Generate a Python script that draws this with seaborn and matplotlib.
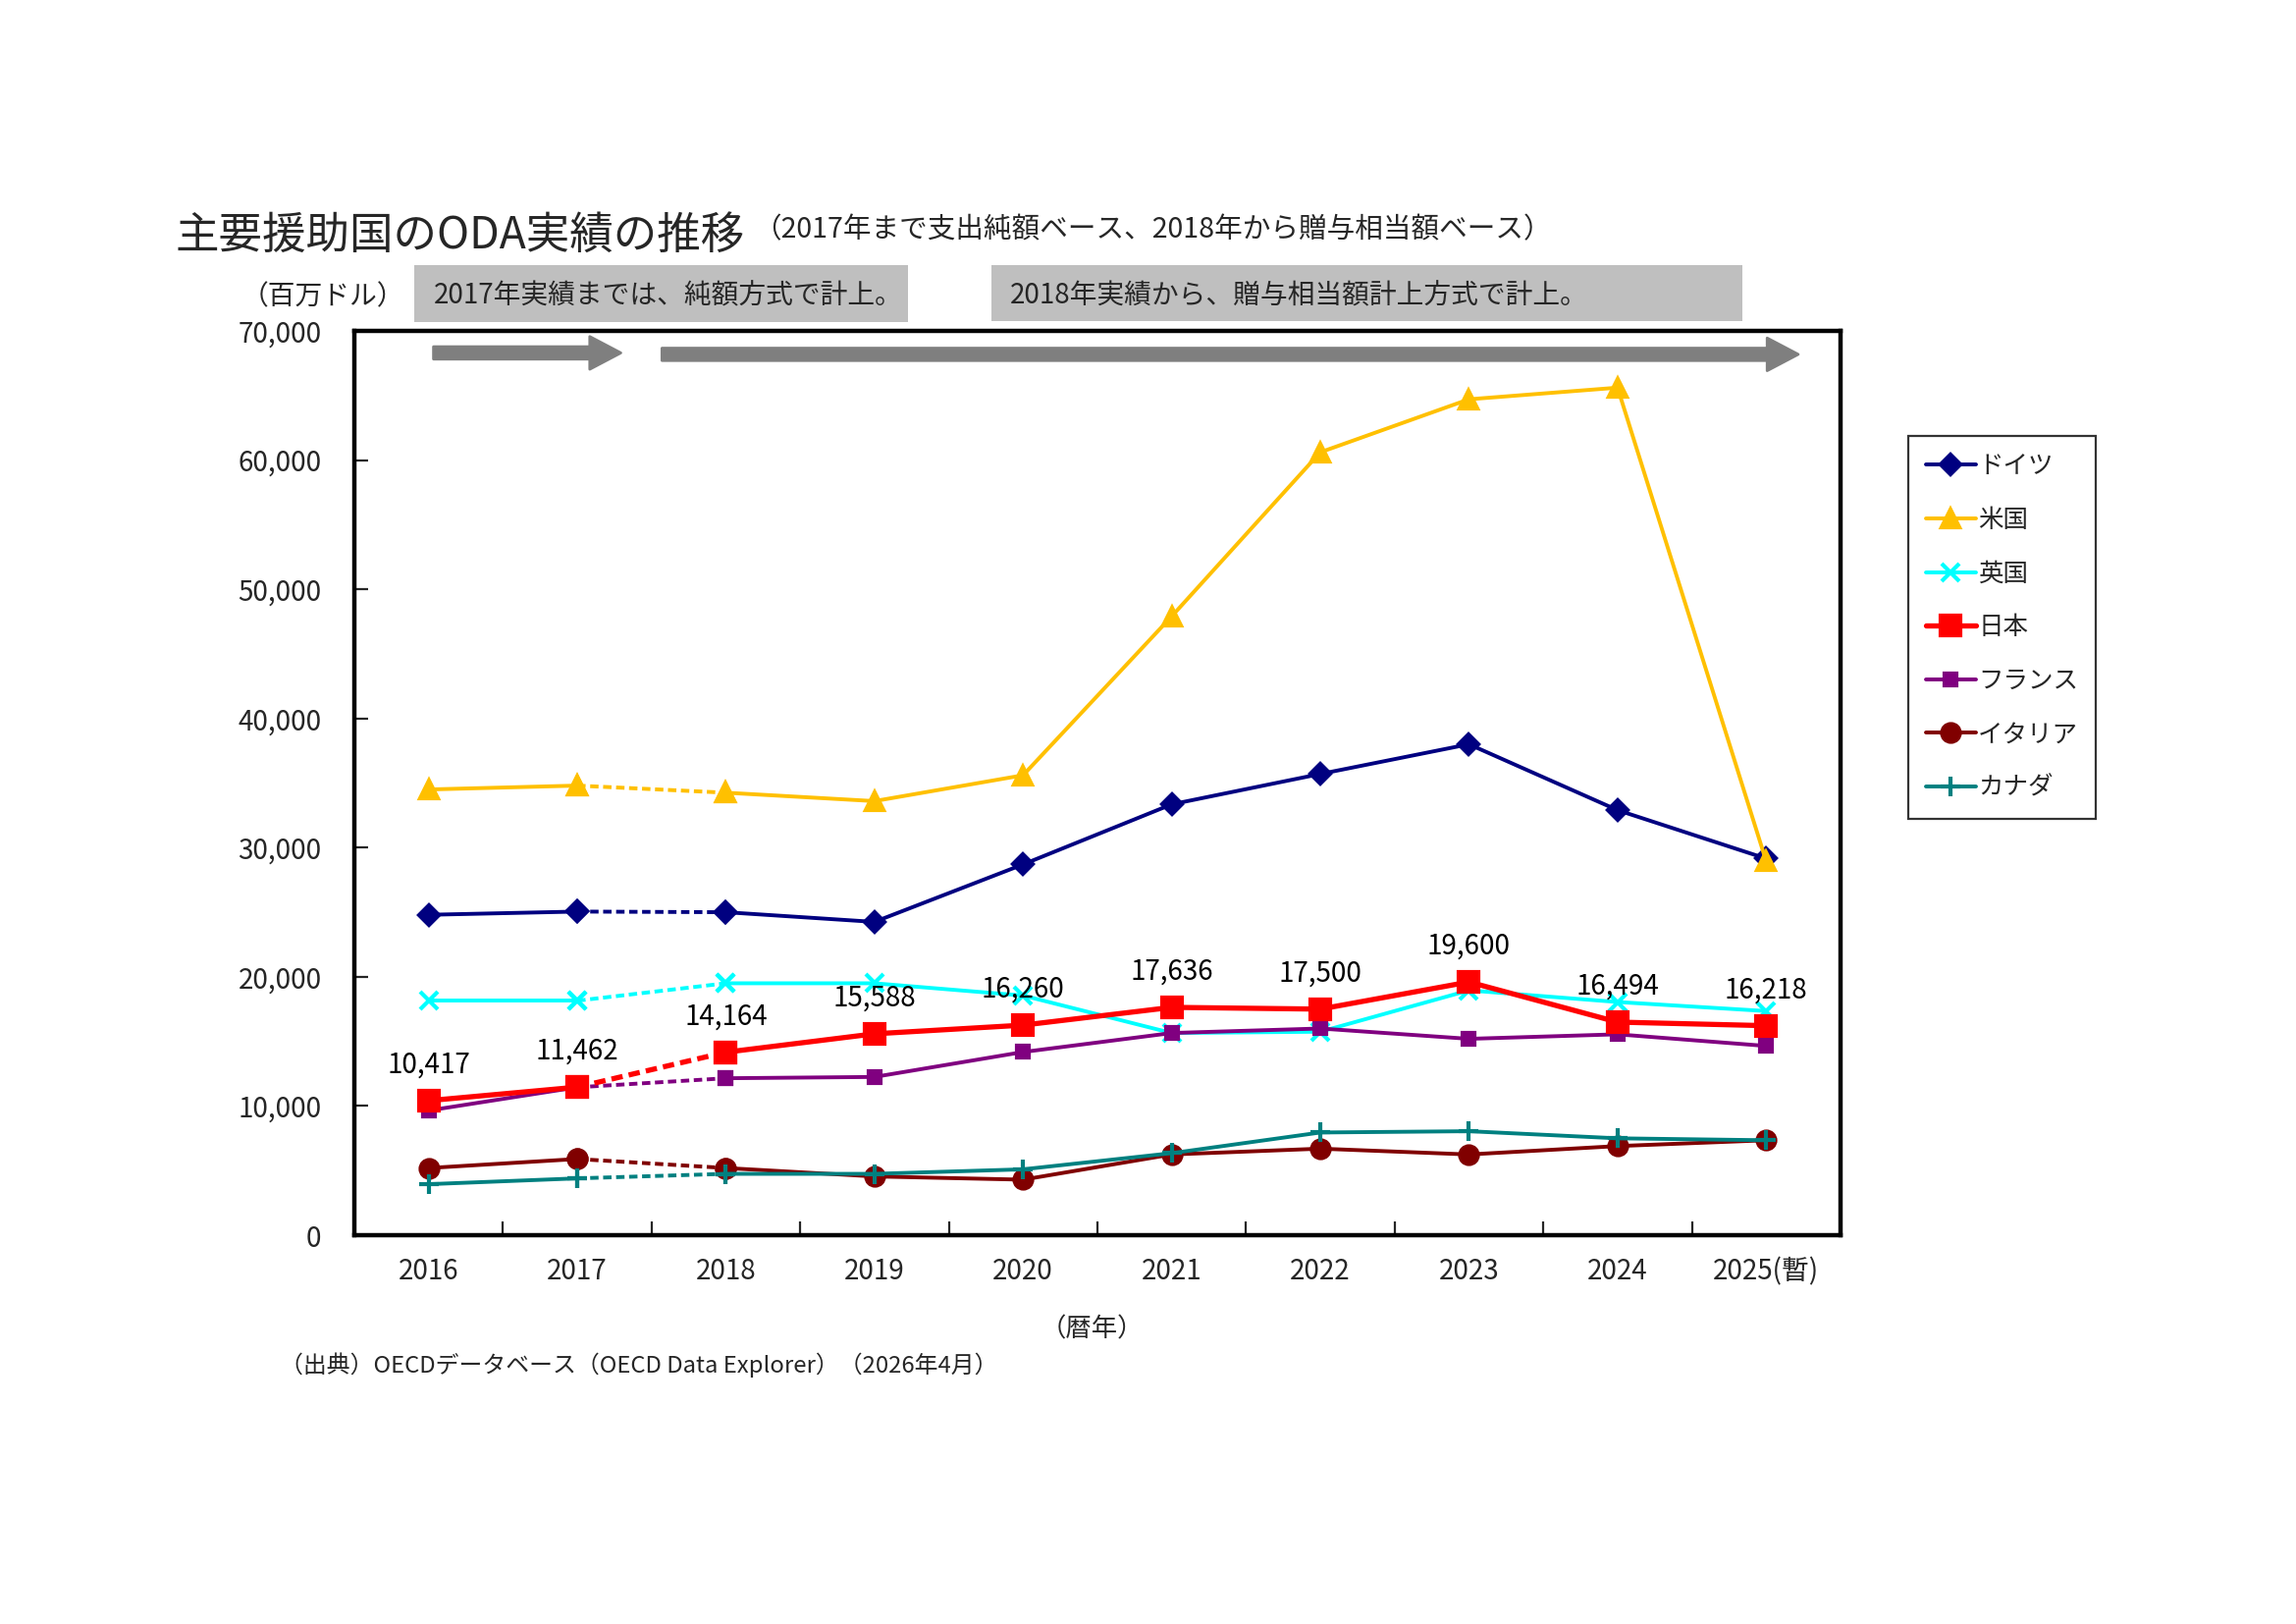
import numpy as np
import pandas as pd
import matplotlib
matplotlib.use('Agg')
import matplotlib.pyplot as plt
import seaborn as sns
from matplotlib.patches import Rectangle

# years on the x axis
years = ['2016', '2017', '2018', '2019', '2020', '2021', '2022', '2023', '2024', '2025(暫)']

# ODA (million USD) per donor
germany = [24800, 25050, 25000, 24250, 28700, 33350, 35700, 38000, 32900, 29150]
usa = [34500, 34800, 34250, 33600, 35600, 47900, 60600, 64700, 65600, 28950]
uk = [18150, 18150, 19500, 19500, 18550, 15650, 15750, 18950, 18050, 17350]
japan = [10417, 11462, 14164, 15588, 16260, 17636, 17500, 19600, 16494, 16218]
france = [9650, 11450, 12150, 12250, 14180, 15650, 16000, 15200, 15550, 14650]
italy = [5200, 5900, 5200, 4550, 4300, 6250, 6700, 6250, 6900, 7350]
canada = [3950, 4400, 4750, 4750, 5100, 6350, 7950, 8050, 7500, 7350]

names = ['ドイツ', '米国', '英国', '日本', 'フランス', 'イタリア', 'カナダ']
series = [germany, usa, uk, japan, france, italy, canada]
colors = ['#000080', '#FFC000', '#00FFFF', '#FF0000', '#800080', '#800000', '#008080']
markers = ['D', '^', 'x', 's', 's', 'o', '+']
msizes = [5, 6.5, 6.5, 7, 4, 6.5, 7]
lwidths = [1.4, 1.4, 1.4, 1.9, 1.4, 1.4, 1.4]

sns.set_style('white')
plt.rcParams['font.family'] = ['Noto Sans CJK JP', 'DejaVu Sans']

fig = plt.figure(figsize=(11.695, 8.27), dpi=200)
ax = fig.add_axes([0.1543, 0.2394, 0.6473, 0.5569])

x = np.arange(len(years))
segments = [(0, 2, '-'), (1, 3, '--'), (2, 10, '-')]
# draw japan last so it sits on top
order = [0, 1, 2, 4, 5, 6, 3]
for i in order:
    vals = np.array(series[i])
    for k, (a, b, ls) in enumerate(segments):
        lab = names[i] if k == 2 else None
        sns.lineplot(x=x[a:b], y=vals[a:b], ax=ax, color=colors[i], marker=markers[i],
                     markersize=msizes[i], markeredgecolor=colors[i], markeredgewidth=1.5,
                     linewidth=lwidths[i], linestyle=ls, label=lab, zorder=3 + (i == 3),
                     dashes=False if ls == '-' else True)
        if ls == '--':
            ax.lines[-1].set_dashes((2.2, 1.2))

# data labels for japan
for xi, v in zip(x, japan):
    ax.annotate(f'{v:,}', (xi, v), xytext=(0, 13), textcoords='offset points',
                ha='center', va='center', fontsize=10, color='black')

ax.set_xlim(-0.5, 9.5)
ax.set_ylim(0, 70000)
ax.set_yticks(range(0, 70001, 10000))
ax.set_yticklabels([f'{v:,}' for v in range(0, 70001, 10000)], fontsize=10)
ax.set_xticks(x)
ax.set_xticklabels(years, fontsize=10)
ax.set_xticks(np.arange(0.5, 9.5, 1), minor=True)
ax.tick_params(axis='x', which='major', length=0, pad=8)
ax.tick_params(axis='x', which='minor', direction='in', length=5, width=0.8, bottom=True)
ax.tick_params(axis='y', direction='in', length=5, width=0.8, left=True, pad=12)
for sp in ax.spines.values():
    sp.set_linewidth(1.6)
    sp.set_color('black')
ax.set_xlabel('')
ax.set_ylabel('')

handles, labels = ax.get_legend_handles_labels()
hmap = dict(zip(labels, handles))
ax.get_legend().remove()
leg = fig.legend([hmap[n] for n in names], names, loc='upper left', bbox_to_anchor=(0.831, 0.7313),
                 fontsize=9.2, frameon=True, fancybox=False, handlelength=2.0, labelspacing=1.12,
                 borderpad=0.7, handletextpad=0.1, borderaxespad=0)
leg.get_frame().set_edgecolor('black')
leg.get_frame().set_linewidth(0.8)

# titles and notes
fig.text(0.0765, 0.855, '主要援助国のODA実績の推移', fontsize=16, va='center', ha='left')
fig.text(0.328, 0.8585, '（2017年まで支出純額ベース、2018年から贈与相当額ベース）', fontsize=10.3, va='center', ha='left')
fig.text(0.105, 0.8175, '（百万ドル）', fontsize=10, va='center', ha='left')
fig.text(0.453, 0.1815, '（暦年）', fontsize=9.5, va='center', ha='left')
fig.text(0.122, 0.1595, '（出典）OECDデータベース（OECD Data Explorer）（2026年4月）', fontsize=8.6, va='center', ha='left')

# grey note boxes
fig.patches.append(Rectangle((0.1805, 0.8016), 0.2149, 0.0352, transform=fig.transFigure,
                             facecolor='#BFBFBF', edgecolor='none'))
fig.patches.append(Rectangle((0.4318, 0.8025), 0.3271, 0.0343, transform=fig.transFigure,
                             facecolor='#BFBFBF', edgecolor='none'))
fig.text(0.1888, 0.8175, '2017年実績までは、純額方式で計上。', fontsize=10, va='center', ha='left')
fig.text(0.440, 0.8178, '2018年実績から、贈与相当額計上方式で計上。', fontsize=10, va='center', ha='left')

# arrows
arrow = dict(arrowstyle='simple,head_width=1.0,head_length=0.95,tail_width=0.38',
             mutation_scale=12, color='#7F7F7F', shrinkA=0, shrinkB=0)
ax.annotate('', xy=(0.2704, 0.7827), xytext=(0.1888, 0.7827), xycoords='figure fraction',
            textcoords='figure fraction', arrowprops=arrow)
ax.annotate('', xy=(0.7832, 0.7818), xytext=(0.2883, 0.7818), xycoords='figure fraction',
            textcoords='figure fraction', arrowprops=arrow)

fig.savefig('out.png', dpi=200, facecolor='white')
